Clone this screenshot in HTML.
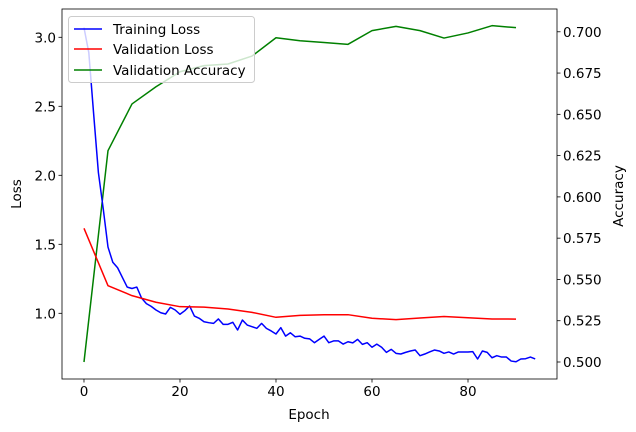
<!DOCTYPE html>
<html><head><meta charset="utf-8"><style>
body{margin:0;background:#fff;}
svg{display:block;font-family:"DejaVu Sans","Liberation Sans",sans-serif;}
</style></head><body>
<svg id="chart" width="636" height="432"></svg>
<script>
const epochsTrain = Array.from({length:95},(_,i)=>i);
const trainLoss = [3.07,2.89,2.45,2.02,1.76,1.48,1.37,1.33,1.26,1.19,1.18,1.19,1.11,1.07,1.05,1.024,1.004,0.995,1.043,1.024,0.993,1.019,1.053,0.98,0.964,0.939,0.932,0.927,0.959,0.92,0.92,0.935,0.879,0.951,0.915,0.903,0.891,0.927,0.891,0.872,0.85,0.896,0.835,0.859,0.83,0.835,0.819,0.815,0.787,0.811,0.835,0.787,0.80,0.80,0.777,0.794,0.786,0.811,0.775,0.787,0.754,0.777,0.754,0.717,0.739,0.71,0.705,0.717,0.727,0.734,0.693,0.705,0.72,0.734,0.727,0.71,0.72,0.705,0.72,0.72,0.72,0.722,0.669,0.727,0.717,0.678,0.693,0.683,0.683,0.654,0.649,0.669,0.671,0.683,0.669];
const epochsVal = [0,5,10,15,20,25,30,35,40,45,50,55,60,65,70,75,80,85,90];
const valLoss = [1.616,1.20,1.128,1.08,1.048,1.045,1.031,1.007,0.971,0.985,0.99,0.99,0.964,0.954,0.966,0.977,0.968,0.959,0.958];
const valAcc = [0.500,0.628,0.6563,0.6667,0.6758,0.6795,0.6805,0.6853,0.6964,0.6946,0.6935,0.6924,0.7007,0.7033,0.7007,0.6962,0.6993,0.7037,0.7025];
const xTicks = [0,20,40,60,80];
const lossTicks = [1.0,1.5,2.0,2.5,3.0];
const accTicks = [0.500,0.525,0.550,0.575,0.600,0.625,0.650,0.675,0.700];

const L=62,R=557,T=9,B=379;
const xMin=-4.58,xMax=98.54, yMin=0.524,yMax=3.205, aMin=0.4897,aMax=0.7138;
const sx=v=>L+(v-xMin)/(xMax-xMin)*(R-L);
const sy=v=>B-(v-yMin)/(yMax-yMin)*(B-T);
const sa=v=>B-(v-aMin)/(aMax-aMin)*(B-T);
const svg=document.getElementById('chart');
const NS='http://www.w3.org/2000/svg';
function mk(tag,attrs,parent){const e=document.createElementNS(NS,tag);for(const k in attrs)e.setAttribute(k,attrs[k]);(parent||svg).appendChild(e);return e;}

function line(xs,ys,f,color,name){
  const p=mk('polyline',{points:xs.map((x,i)=>sx(x).toFixed(2)+','+f(ys[i]).toFixed(2)).join(' '),fill:'none',stroke:color,'stroke-width':1.5,'stroke-linejoin':'round'});
  
  
}
line(epochsVal,valAcc,sa,'#008000','validation-accuracy-line');
line(epochsTrain,trainLoss,sy,'#0000ff','training-loss-line');
line(epochsVal,valLoss,sy,'#ff0000','validation-loss-line');

const frame=mk('rect',{x:L,y:T,width:R-L,height:B-T,fill:'none',stroke:'#000','stroke-width':0.8});



xTicks.forEach(t=>{const x=sx(t);
  mk('line',{x1:x,x2:x,y1:B,y2:B+3.5,stroke:'#000','stroke-width':0.8});
  const tx=mk('text',{x:x,y:B+17,'text-anchor':'middle','font-size':13.5,fill:'#000'});tx.textContent=t;
  
  
});
lossTicks.forEach(t=>{const y=sy(t);
  mk('line',{x1:L-3.5,x2:L,y1:y,y2:y,stroke:'#000','stroke-width':0.8});
  const tx=mk('text',{x:L-6,y:y+5,'text-anchor':'end','font-size':13.5,fill:'#000'});tx.textContent=t.toFixed(1);
  
  
});
accTicks.forEach(t=>{const y=sa(t);
  mk('line',{x1:R,x2:R+3.5,y1:y,y2:y,stroke:'#000','stroke-width':0.8});
  const tx=mk('text',{x:R+6,y:y+5,'text-anchor':'start','font-size':13.5,fill:'#000'});tx.textContent=t.toFixed(3);
  
  
});
</script>
<svg style="position:absolute;left:0;top:0" width="636" height="432">
<text x="309" y="419" text-anchor="middle" font-size="13.5">Epoch</text>
<text transform="translate(21,194) rotate(-90)" text-anchor="middle" font-size="13.5">Loss</text>
<text transform="translate(623,196) rotate(-90)" text-anchor="middle" font-size="13.5">Accuracy</text>
<g>
<rect x="68.5" y="16.5" width="186" height="66" rx="3" fill="#fff" fill-opacity="0.8" stroke="#ccc"/>
<g><line x1="74" x2="102" y1="29" y2="29" stroke="#0000ff" stroke-width="1.5"/><text x="113" y="34" font-size="13.5">Training Loss</text></g>
<g><line x1="74" x2="102" y1="49" y2="49" stroke="#ff0000" stroke-width="1.5"/><text x="113" y="54" font-size="13.5">Validation Loss</text></g>
<g><line x1="74" x2="102" y1="70" y2="70" stroke="#008000" stroke-width="1.5"/><text x="113" y="75" font-size="13.5">Validation Accuracy</text></g>
</g>
</svg>
<style>body{position:relative;}</style>
</body></html>
